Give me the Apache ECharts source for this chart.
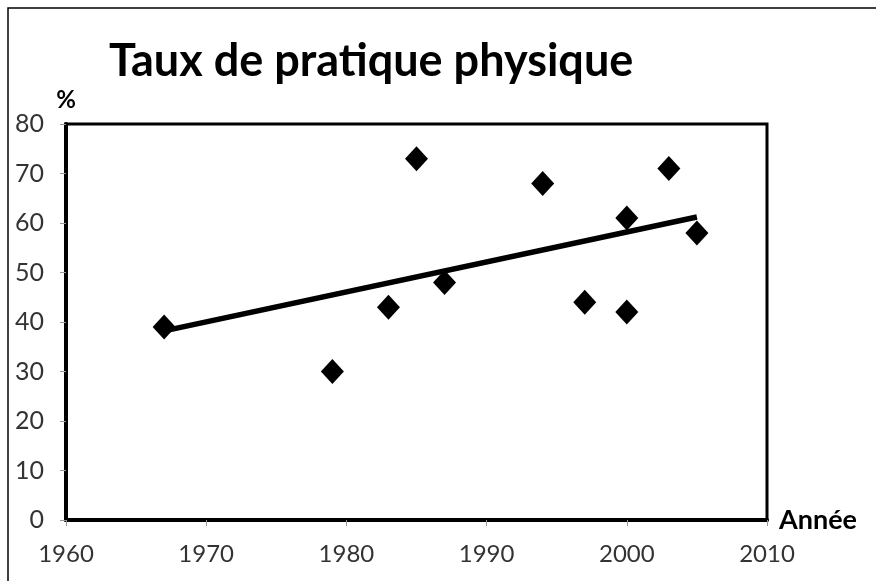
<!DOCTYPE html>
<html>
<head>
<meta charset="utf-8">
<script src="https://cdn.jsdelivr.net/npm/echarts@6/dist/echarts.min.js"></script>
<style>
  html, body { margin: 0; padding: 0; background: #fff; }
  #chart { width: 876px; height: 581px; }
</style>
</head>
<body>
<div id="chart"></div>
<script>
// survey points: year, % practising
var years = [1967, 1979, 1983, 1985, 1987, 1994, 1997, 2000, 2000, 2003, 2005];
var rates = [39, 30, 43, 73, 48, 68, 44, 61, 42, 71, 58];
// linear trend, read at its two ends
var trendYears = [1967, 2005];
var trendRates = [38.2, 61.2];

var points = years.map(function (y, i) { return [y, rates[i]]; });
var trend = trendYears.map(function (y, i) { return [y, trendRates[i]]; });

var chart = echarts.init(document.getElementById('chart'));
chart.setOption({
  animation: false,
  title: {
    text: 'Taux de pratique physique',
    left: 104,
    top: 34,
    textStyle: { fontFamily: 'Lato', fontWeight: 'bold', fontSize: 45, color: '#000' }
  },
  grid: {
    left: 66, right: 109, top: 124, bottom: 61,
    show: true, borderColor: '#000', borderWidth: 3
  },
  xAxis: {
    type: 'value', min: 1960, max: 2010, interval: 10,
    name: 'Année', nameLocation: 'end', nameGap: 12,
    nameTextStyle: { fontFamily: 'Lato', fontWeight: 'bold', fontSize: 27, color: '#000', padding: [0, 0, 12, 0] },
    axisLine: { show: true, lineStyle: { color: '#000', width: 4 } },
    axisTick: { show: true, length: 6, lineStyle: { color: '#999', width: 1 } },
    axisLabel: { fontFamily: 'Lato', fontSize: 24, color: '#333', margin: 22, formatter: function (v) { return String(v); } },
    splitLine: { show: false }
  },
  yAxis: {
    type: 'value', min: 0, max: 80, interval: 10,
    name: '%', nameLocation: 'end', nameGap: 12,
    nameTextStyle: { fontFamily: 'Lato', fontWeight: 'bold', fontSize: 24, color: '#000' },
    axisLine: { show: true, lineStyle: { color: '#000', width: 4 } },
    axisTick: { show: true, length: 6, lineStyle: { color: '#999', width: 1 } },
    axisLabel: { fontFamily: 'Lato', fontSize: 25, color: '#333', margin: 22 },
    splitLine: { show: false }
  },
  graphic: [{
    type: 'polyline',
    shape: { points: [[8, 600], [8, 8], [900, 8]] },
    style: { fill: 'none', stroke: '#000', lineWidth: 1.5 },
    silent: true
  }],
  series: [
    {
      type: 'scatter',
      data: points,
      symbol: 'diamond',
      symbolSize: [23, 25],
      itemStyle: { color: '#000', opacity: 1 },
      z: 3
    },
    {
      type: 'line',
      data: trend,
      symbol: 'none',
      lineStyle: { color: '#000', width: 5.5 },
      z: 4
    }
  ]
});
</script>
</body>
</html>
